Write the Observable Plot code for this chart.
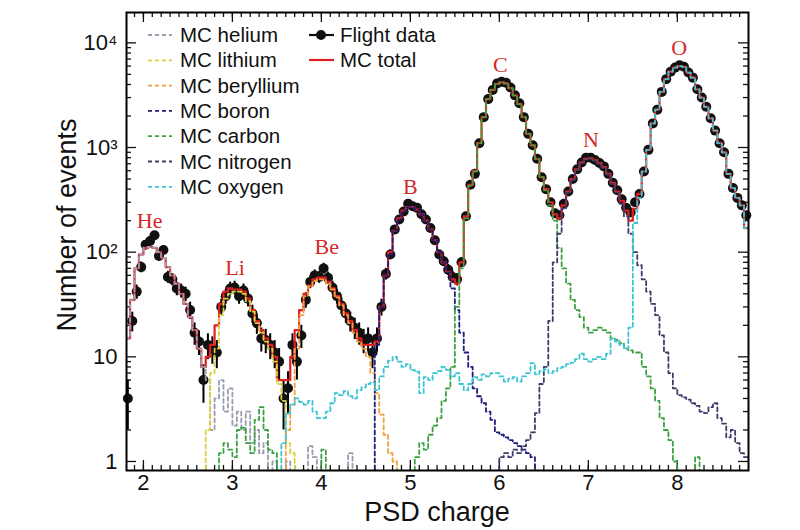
<!DOCTYPE html>
<html><head><meta charset="utf-8">
<script src="https://cdn.jsdelivr.net/npm/d3@7"></script>
<script src="https://cdn.jsdelivr.net/npm/@observablehq/plot@0.6"></script>
<style>
body{margin:0;background:#fff;}
#wrap{width:800px;height:530px;}
</style></head><body><div id="wrap"></div>
<script>
// Histogram binning (PSD charge)
const binLow = 1.8;
const binWidth = 0.05;

// Flight data counts per bin (centres at binLow + (i+0.5)*binWidth)
const flight = [
  4,22,42,72,118,128,145,92,105,58,
  55,45,43,40,28,17,14,6,13,12,
  11,30,38,45,46,38,43,36,26,21,
  15,14.5,13,11,9,4,5,13,9,16,
  35,52,60,58,70,57,46,38,31,26,
  22,19,17,14.5,15,11,15,30,62,95,
  165,205,245,290,275,265,230,205,170,130,
  95,82,68,58,55,80,220,440,560,1100,
  1950,2900,3550,4100,4250,4150,3750,3150,2650,1950,
  1350,1050,780,520,400,300,235,225,290,380,
  500,620,720,800,800,760,710,660,560,460,
  390,320,265,240,300,360,590,950,1700,2300,
  3400,4500,5300,5800,6100,5900,5200,4650,3600,3000,
  2450,1900,1450,1100,900,560,410,330,280,225
];
const flightErr = [
  2,4.7,6.5,8.5,10.9,11.3,12,9.6,10.2,7.6,
  7.4,6.7,6.6,6.3,5.3,4.1,3.7,2.4,3.6,3.5,
  3.3,5.5,6.2,6.7,6.8,6.2,6.6,6,5.1,4.6,
  3.9,3.8,3.6,3.3,3,2,2.2,3.6,3,4,
  5.9,7.2,7.7,7.6,8.4,7.5,6.8,6.2,5.6,5.1,
  4.7,4.4,4.1,3.8,3.9,3.3,3.9,5.5,7.9,9.7,
  12.8,14.3,15.7,17,16.6,16.3,15.2,14.3,13,11.4,
  9.7,9.1,8.2,7.6,7.4,8.9,14.8,21,23.7,33,
  44,54,60,64,65,64,61,56,51,44,
  37,32,28,23,20,17,15,15,17,19.5,
  22,25,27,28,28,28,27,26,24,21,
  20,18,16,15.5,17,19,24,31,41,48,
  58,67,73,76,78,77,72,68,60,55,
  49,44,38,33,30,24,20,18,17,15
];
const mcTotal = [
  15,35,70,95,110,112,110,100,88,72,
  60,50,40,32,24,18,12,8,10,13,
  20,32,42,45,44,44,42,36,28,22,
  18,15,13,10,6,6,6,10,18,28,
  40,48,55,57,57,52,45,38,32,26,
  22,18,15,13,13,13,14,30,60,100,
  160,210,250,270,270,255,230,200,165,130,
  100,80,65,55,50,80,220,440,600,1100,
  1950,2900,3550,4050,4200,4100,3700,3150,2600,1950,
  1350,1050,780,520,400,300,230,210,280,380,
  500,620,720,780,790,760,710,650,560,460,
  380,310,250,200,260,360,590,950,1700,2300,
  3400,4500,5300,5800,6000,5900,5200,4650,3600,3000,
  2450,1900,1450,1100,900,560,410,330,280,170
];

// MC components: first bin index + counts
const heliumStart = 0;
const helium = [15,35,70,95,110,112,110,100,88,72, 60,50,40,32,24,18,12,8,6,2,
  4,6,3,5,2.2,3,2,3,1.5,2, 1.2,1.5,0,1,0,0,1,0,0,0, 0,1.4,1.1,0,0,0,0,0,0,0, 1.2,0];
const lithiumStart = 17;
const lithium = [0,2,7,12,25,36,40,42,42,40,34,27,21,17,14,12,9,5.5,3.8,1.5,1.2,0];
const berylliumStart = 35;
const beryllium = [0,2,3.5,12,25,38,47,53,55,55,50,44,37,31,25,21,17,14,12,10,7,4.5,2.8,1.8,1.2,1,0];
const boronStart = 55;
const boron = [0,13,30,60,95,160,205,245,268,268,255,228,198,165,130,100,80,64,45,28,
  17,11,8,5,4.2,3.6,3,2.5,1.9,1.8,1.7,1.6,1.5,1.4,1.3,1.2,1.1,0];
const carbonStart = 20;
const carbon = [
  0,1.2,1.5,1.3,1.1,2,2.1,1.5,1.2,2.5,
  3.3,2,1.3,1.2,0,0,0,0,0,0,
  0,0,0,0,1.3,0,0,0,0,0,
  0,0,0,0,0,0,0,0,0,0,
  0,0,0,0,0,1.1,1.5,1.3,1.8,2.2,
  2.6,3.8,5,8,30,70,210,430,590,1100,
  1950,2900,3550,4050,4200,4100,3700,3150,2600,1950,
  1350,1050,780,520,390,280,200,110,70,50,
  35,28,24,19,17,18,19,18,17,15,
  14.5,13.5,12,11.5,11,11,8,6.5,5,3.8,
  2.6,2,1.6,1,0,0,0,0,1.1,0
];
const nitrogenStart = 83;
const nitrogen = [
  0,1.1,1.2,1.1,1.3,1.2,1.4,
  1.6,1.9,2.9,5.5,8,22,80,150,260,370,
  490,610,710,770,780,750,700,640,550,450,
  370,290,220,150,100,75,55,42,32,25,
  16,11,7,5,4.3,4.1,3.9,3.6,3.4,3,
  2.9,3.3,3.6,2.6,2.3,1.7,2,1.5,1.2,1.1
];
const oxygenStart = 34;
const oxygen = [
  0,1.5,2.9,3.5,4,3.7,
  3.5,3.8,3,2.6,2.6,3,3.6,4.5,4.3,4.7,
  4.2,4,4.8,5.1,5.5,5.7,4.8,6.5,8,9.2,
  10,9,8,8.5,7.5,7.2,4.5,6.4,6,7,
  7.3,8,7.5,6.5,7,5.5,4.8,5.5,6.4,6,
  6.8,6.5,7,7,6.5,5.8,6.2,6.4,5.8,6.5,
  7,8.7,6.8,7.3,7.6,7,7.3,7.8,8,8.5,
  8.8,9.5,10.7,9.5,9,9.5,10,9.5,10.7,15,
  14,13,12,19,190,330,590,950,1700,2300,
  3400,4500,5300,5800,6000,5900,5200,4650,3600,3000,
  2450,1900,1450,1100,900,560,410,330,280,170
];

const componentNames = ["MC helium","MC lithium","MC beryllium","MC boron","MC carbon","MC nitrogen","MC oxygen"];
const componentColors = ["#9a9cb0","#d8d040","#f0a040","#1c1c7a","#3aa040","#3c3c6c","#3cc4d4"];
const componentStarts = [heliumStart, lithiumStart, berylliumStart, boronStart, carbonStart, nitrogenStart, oxygenStart];
const componentValues = [helium, lithium, beryllium, boron, carbon, nitrogen, oxygen];

// Peak labels
const peakLabels = ["He","Li","Be","B","C","N","O"];
const peakX = [2.07, 3.03, 4.06, 5.0, 6.01, 7.03, 8.02];
const peakY = [200, 70, 112, 420, 6200, 1180, 8900];

// Axis ticks
const xTicks = [2,3,4,5,6,7,8];
const yTicks = [1,10,100,1000,10000];
const yTickLabels = ["1","10","10\u00B2","10\u00B3","10\u2074"];

const floorVal = 0.5;
function stairs(start, values, name) {
  const pts = values.map((v, i) => ({x: binLow + (start + i) * binWidth, y: Math.max(v, floorVal), name}));
  pts.push({x: binLow + (start + values.length) * binWidth, y: Math.max(values[values.length - 1], floorVal), name});
  return pts;
}
const flightPts = flight.map((v, i) => ({x: binLow + (i + 0.5) * binWidth, n: v, e: flightErr[i]}));
const totalPts = stairs(0, mcTotal, "MC total");
const compPts = componentValues.map((vals, k) => stairs(componentStarts[k], vals, componentNames[k]));

const xMinor = d3.range(19, 88).map(d => d / 10);
const yMinor = [];
for (let k = 0; k <= 4; k++) for (let m = 2; m <= 9; m++) { const v = m * 10 ** k; if (v < 19500) yMinor.push(v); }

const W = 800, H = 530, ML = 126, MR = 52, MT = 12, MB = 60;
const FW = W - ML - MR, FH = H - MT - MB;
const tk = {stroke: "#111", strokeWidth: 1.3};

const chart = Plot.plot({
  width: W, height: H,
  marginLeft: ML, marginRight: MR, marginTop: MT, marginBottom: MB,
  style: {fontFamily: "Liberation Sans, Arial, sans-serif", background: "white", color: "#111"},
  x: {domain: [1.81, 8.80]},
  y: {type: "log", domain: [0.82, 19500]},
  marks: [
    // tick labels
    Plot.axisX({anchor: "bottom", ticks: xTicks, tickSize: 0, tickPadding: 4, fontSize: 22, label: null, tickFormat: d => String(d)}),
    Plot.axisY({anchor: "left", ticks: yTicks, tickSize: 0, tickPadding: 9, fontSize: 22, label: null, tickFormat: d => yTickLabels[yTicks.indexOf(d)]}),
    // inward ticks on all four sides
    Plot.tickX(xTicks, {x: d => d, insetTop: FH - 10, ...tk}),
    Plot.tickX(xMinor, {x: d => d, insetTop: FH - 5, ...tk}),
    Plot.tickX(xTicks, {x: d => d, insetBottom: FH - 10, ...tk}),
    Plot.tickX(xMinor, {x: d => d, insetBottom: FH - 5, ...tk}),
    Plot.tickY(yTicks, {y: d => d, insetRight: FW - 10, ...tk}),
    Plot.tickY(yMinor, {y: d => d, insetRight: FW - 5, ...tk}),
    Plot.tickY(yTicks, {y: d => d, insetLeft: FW - 10, ...tk}),
    Plot.tickY(yMinor, {y: d => d, insetLeft: FW - 5, ...tk}),
    // flight data
    Plot.ruleX(flightPts, {x: "x", y1: d => Math.max(d.n - d.e, floorVal), y2: d => d.n + d.e, stroke: "black", strokeWidth: 2, clip: true}),
    Plot.dot(flightPts, {x: "x", y: "n", r: 5, fill: "#111", stroke: "none"}),
    // MC total
    Plot.line(totalPts, {x: "x", y: "y", curve: "step-after", stroke: "#e02020", strokeWidth: 2.2, clip: true}),
    // MC components
    ...compPts.map((pts, k) => Plot.line(pts, {x: "x", y: "y", curve: "step-after", stroke: componentColors[k], strokeWidth: 1.8, strokeDasharray: "4,3", clip: true})),
    // peak labels
    Plot.text(peakLabels, {x: (d, i) => peakX[i], y: (d, i) => peakY[i], text: d => d, fill: "#d42a2a", fontSize: 22, fontFamily: "Liberation Serif, Times New Roman, serif"}),
    Plot.frame({stroke: "black", strokeWidth: 2})
  ]
});

document.getElementById("wrap").appendChild(chart);
const svg = d3.select(chart);

// axis titles
svg.append("text").attr("x", 437).attr("y", 521).attr("text-anchor", "middle")
  .attr("font-family", "Liberation Sans, Arial, sans-serif").attr("font-size", 27).attr("fill", "#111").text("PSD charge");
svg.append("text").attr("transform", "translate(76,225) rotate(-90)").attr("text-anchor", "middle")
  .attr("font-family", "Liberation Sans, Arial, sans-serif").attr("font-size", 27).attr("fill", "#111").text("Number of events");

// legend
const lg = svg.append("g").attr("font-family", "Liberation Sans, Arial, sans-serif").attr("font-size", 20.5).attr("fill", "#111").attr("text-anchor", "start");
componentNames.forEach((name, k) => {
  const cy = 35 + k * 25.3;
  lg.append("line").attr("x1", 148).attr("x2", 172).attr("y1", cy).attr("y2", cy)
    .attr("stroke", componentColors[k]).attr("stroke-width", 1.8).attr("stroke-dasharray", "4,3");
  lg.append("text").attr("x", 180).attr("y", cy).attr("dy", "0.35em").text(name);
});
lg.append("line").attr("x1", 309).attr("x2", 334).attr("y1", 35).attr("y2", 35).attr("stroke", "#111").attr("stroke-width", 2.2);
lg.append("circle").attr("cx", 321).attr("cy", 35).attr("r", 5).attr("fill", "#111");
lg.append("text").attr("x", 340).attr("y", 35).attr("dy", "0.35em").text("Flight data");
lg.append("line").attr("x1", 309).attr("x2", 334).attr("y1", 60).attr("y2", 60).attr("stroke", "#e02020").attr("stroke-width", 2.2);
lg.append("text").attr("x", 340).attr("y", 60).attr("dy", "0.35em").text("MC total");
</script>
</body></html>
